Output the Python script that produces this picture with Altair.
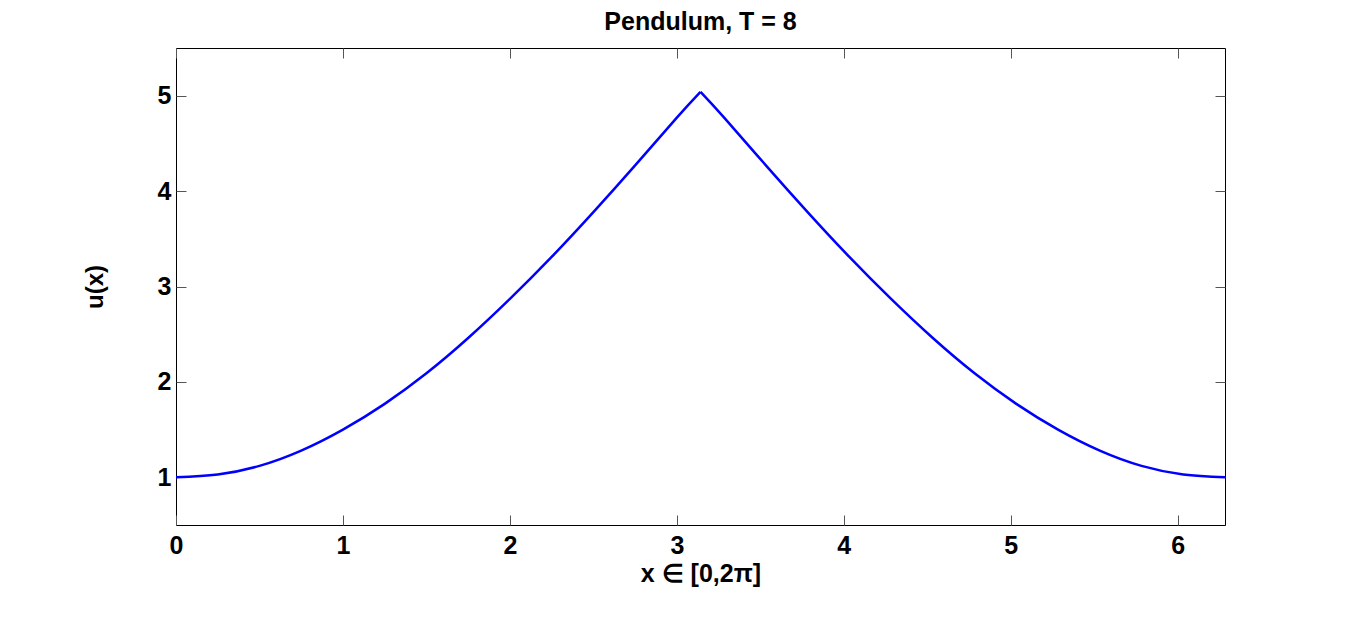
import altair as alt
import pandas as pd

# Left half of the curve (x in [0, pi])
x_left = [0.0, 0.25, 0.5, 0.75, 1.0, 1.25, 1.5, 1.75, 2.0, 2.25, 2.5, 2.75, 3.0, 3.1416]
u_left = [1.00, 1.03, 1.12, 1.28, 1.50, 1.77, 2.09, 2.46, 2.87, 3.31, 3.78, 4.27, 4.77, 5.04]
# Right half (x in [pi, 2pi])
x_right = [3.1416, 3.2832, 3.5332, 3.7832, 4.0332, 4.2832, 4.5332, 4.7832, 5.0332, 5.2832, 5.5332, 5.7832, 6.0332, 6.2832]
u_right = [5.04, 4.77, 4.27, 3.78, 3.31, 2.87, 2.46, 2.09, 1.77, 1.50, 1.28, 1.12, 1.03, 1.00]

x_ticks = [0, 1, 2, 3, 4, 5, 6]
y_ticks = [1, 2, 3, 4, 5]

df = pd.DataFrame({
    "x": x_left + x_right,
    "u": u_left + u_right,
    "side": ["left"] * len(x_left) + ["right"] * len(x_right),
})

FONT = "Liberation Sans"
TICK = "#555555"
xscale = alt.Scale(domain=[0, 6.2832], nice=False, zero=False)
yscale = alt.Scale(domain=[0.5, 5.5], nice=False, zero=False)

main = alt.Chart(df).mark_line(color="#0000ff", strokeWidth=2.5, interpolate="natural").encode(
    x=alt.X("x:Q", scale=xscale, axis=alt.Axis(
        orient="bottom", values=x_ticks, format="d", offset=-10, tickSize=10,
        tickColor=TICK, domain=False, grid=False, labelPadding=8, labelFlush=False,
        labelFontSize=25, labelFontWeight="bold", labelFont=FONT, labelColor="#000",
        title="x ∈ [0,2π]", titleFontSize=25, titleFontWeight="bold", titleFont=FONT,
        titleColor="#000", titlePadding=3)),
    y=alt.Y("u:Q", scale=yscale, axis=alt.Axis(
        orient="left", values=y_ticks, format="d", offset=-10, tickSize=10,
        tickColor=TICK, domain=False, grid=False, labelPadding=5, labelFlush=False,
        labelFontSize=25, labelFontWeight="bold", labelFont=FONT, labelColor="#000",
        title="u(x)", titleFontSize=24, titleFontWeight="bold", titleFont=FONT,
        titleColor="#000", titlePadding=50)),
    detail="side:N",
)

frame = alt.Chart(df).mark_line(opacity=0).encode(
    x=alt.X("x:Q", scale=xscale, axis=alt.Axis(
        orient="top", values=x_ticks, offset=-10, tickSize=10, tickColor=TICK,
        domain=False, grid=False, labels=False, title="")),
    y=alt.Y("u:Q", scale=yscale, axis=alt.Axis(
        orient="right", values=y_ticks, offset=-10, tickSize=10, tickColor=TICK,
        domain=False, grid=False, labels=False, title="")),
    detail="side:N",
)

chart = alt.layer(main, frame).resolve_axis(x="independent", y="independent").properties(
    width=1049,
    height=477,
    title=alt.TitleParams("Pendulum, T = 8", fontSize=25, fontWeight="bold", font=FONT,
                          color="#000", anchor="middle", offset=13),
    autosize=alt.AutoSizeParams(type="none"),
    padding={"left": 168, "top": 40, "right": 10, "bottom": 95},
).configure_view(stroke="#000000", strokeWidth=1)

chart.save("out.html", embed_options={"renderer": "svg", "actions": False})
